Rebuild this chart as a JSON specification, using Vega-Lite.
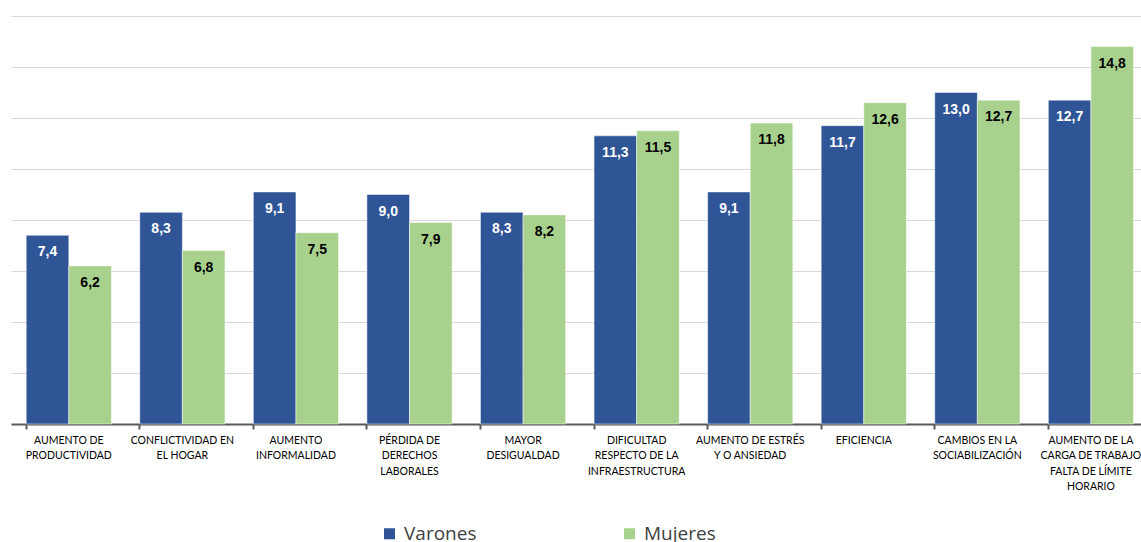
{
  "$schema": "https://vega.github.io/schema/vega-lite/v6.json",
  "width": 1130,
  "height": 408,
  "autosize": "none",
  "padding": {"left": 11, "top": 16, "right": 0, "bottom": 118},
  "background": "white",
  "config": {
    "view": {"stroke": null},
    "locale": {"number": {"decimal": ",", "thousands": ".", "grouping": [3], "currency": ["", " €"]}}
  },
  "data": {
    "values": [
      {"cat": "AUMENTO DE|PRODUCTIVIDAD", "sexo": "Varones", "valor": 7.4},
      {"cat": "AUMENTO DE|PRODUCTIVIDAD", "sexo": "Mujeres", "valor": 6.2},
      {"cat": "CONFLICTIVIDAD EN|EL HOGAR", "sexo": "Varones", "valor": 8.3},
      {"cat": "CONFLICTIVIDAD EN|EL HOGAR", "sexo": "Mujeres", "valor": 6.8},
      {"cat": "AUMENTO|INFORMALIDAD", "sexo": "Varones", "valor": 9.1},
      {"cat": "AUMENTO|INFORMALIDAD", "sexo": "Mujeres", "valor": 7.5},
      {"cat": "PÉRDIDA DE|DERECHOS|LABORALES", "sexo": "Varones", "valor": 9.0},
      {"cat": "PÉRDIDA DE|DERECHOS|LABORALES", "sexo": "Mujeres", "valor": 7.9},
      {"cat": "MAYOR|DESIGUALDAD", "sexo": "Varones", "valor": 8.3},
      {"cat": "MAYOR|DESIGUALDAD", "sexo": "Mujeres", "valor": 8.2},
      {"cat": "DIFICULTAD|RESPECTO DE LA|INFRAESTRUCTURA", "sexo": "Varones", "valor": 11.3},
      {"cat": "DIFICULTAD|RESPECTO DE LA|INFRAESTRUCTURA", "sexo": "Mujeres", "valor": 11.5},
      {"cat": "AUMENTO DE ESTRÉS|Y O ANSIEDAD", "sexo": "Varones", "valor": 9.1},
      {"cat": "AUMENTO DE ESTRÉS|Y O ANSIEDAD", "sexo": "Mujeres", "valor": 11.8},
      {"cat": "EFICIENCIA", "sexo": "Varones", "valor": 11.7},
      {"cat": "EFICIENCIA", "sexo": "Mujeres", "valor": 12.6},
      {"cat": "CAMBIOS EN LA|SOCIABILIZACIÓN", "sexo": "Varones", "valor": 13.0},
      {"cat": "CAMBIOS EN LA|SOCIABILIZACIÓN", "sexo": "Mujeres", "valor": 12.7},
      {"cat": "AUMENTO DE LA|CARGA DE TRABAJO|FALTA DE LÍMITE|HORARIO", "sexo": "Varones", "valor": 12.7},
      {"cat": "AUMENTO DE LA|CARGA DE TRABAJO|FALTA DE LÍMITE|HORARIO", "sexo": "Mujeres", "valor": 14.8}
    ]
  },
  "encoding": {
    "x": {
      "field": "cat", "type": "nominal", "sort": null,
      "scale": {"paddingInner": 0.25, "paddingOuter": 0.1, "align": 0.67},
      "axis": {
        "title": null, "labelAngle": 0, "bandPosition": 0,
        "labelExpr": "split(datum.label, '|')",
        "labelFont": "Lato", "labelFontSize": 10.5, "labelColor": "#000000",
        "labelLineHeight": 15.5, "labelPadding": 6, "labelBaseline": "top",
        "labelLimit": 200,
        "domainColor": "#595959", "domainWidth": 2,
        "tickColor": "#595959", "tickWidth": 2, "tickSize": 5,
        "grid": false
      }
    },
    "xOffset": {
      "field": "sexo", "type": "nominal", "sort": ["Varones", "Mujeres"],
      "scale": {"paddingInner": 0, "paddingOuter": 0}
    },
    "y": {
      "field": "valor", "type": "quantitative",
      "scale": {"domain": [0, 16], "nice": false},
      "axis": {
        "title": null, "labels": false, "ticks": false, "domain": false,
        "grid": true, "gridColor": "#d9d9d9", "gridWidth": 1,
        "values": [0, 2, 4, 6, 8, 10, 12, 14, 16]
      }
    }
  },
  "layer": [
    {
      "mark": {"type": "bar", "stroke": "#ffffff", "strokeWidth": 0.8, "strokeOpacity": 0.6},
      "encoding": {
        "color": {
          "field": "sexo", "type": "nominal",
          "scale": {"domain": ["Varones", "Mujeres"], "range": ["#2F5597", "#A9D18E"]},
          "legend": {
            "title": null, "orient": "none", "direction": "horizontal",
            "legendX": 369, "legendY": 508,
            "symbolType": "square", "symbolSize": 121, "symbolStrokeWidth": 0,
            "labelFont": "Open Sans", "labelFontSize": 19, "labelColor": "#404040",
            "labelOffset": 5, "columnPadding": 143, "labelLimit": 300
          }
        }
      }
    },
    {
      "mark": {"type": "text", "baseline": "middle", "dy": 17, "font": "Liberation Sans", "fontWeight": "bold", "fontSize": 14},
      "encoding": {
        "text": {"field": "valor", "type": "quantitative", "format": ".1f"},
        "color": {
          "condition": {"test": "datum.sexo === 'Varones'", "value": "#ffffff"},
          "value": "#000000"
        }
      }
    }
  ]
}
